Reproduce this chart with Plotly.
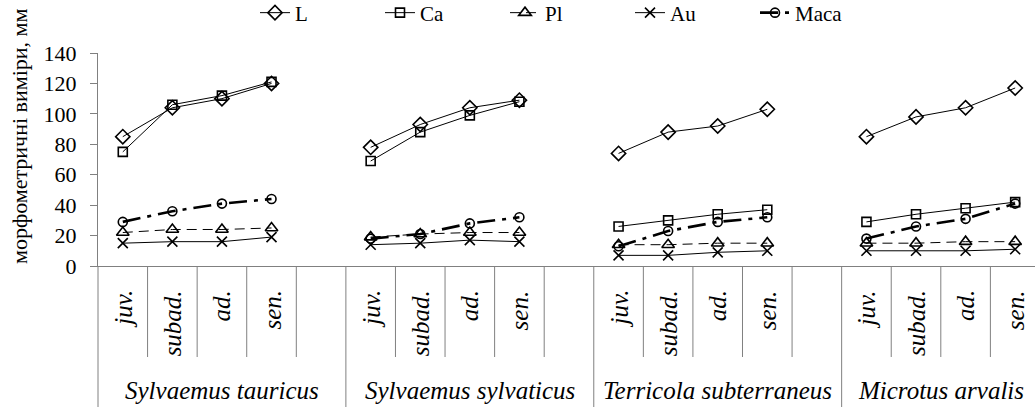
import plotly.graph_objects as go

groups = ["Sylvaemus tauricus", "Sylvaemus sylvaticus", "Terricola subterraneus", "Microtus arvalis"]
ages = ["juv.", "subad.", "ad.", "sen."]
yticks = [0, 20, 40, 60, 80, 100, 120, 140]

L = [85, 104, 110, 120, 78, 93, 104, 109, 74, 88, 92, 103, 85, 98, 104, 117]
Ca = [75, 106, 112, 121, 69, 88, 99, 108, 26, 30, 34, 37, 29, 34, 38, 42]
Pl = [22, 24, 24, 25, 19, 21, 22, 22, 14, 14, 15, 15, 15, 15, 16, 16]
Au = [15, 16, 16, 19, 14, 15, 17, 16, 7, 7, 9, 10, 10, 10, 10, 11]
Maca = [29, 36, 41, 44, 18, 21, 28, 32, 13, 23, 29, 32, 18, 26, 31, 41]

FONT = "Liberation Serif"
SLOTS_PER_GROUP = 5
XMAX = 18.9
GRAY = "#808080"


def build_xy(values):
    xs, ys = [], []
    for g in range(len(groups)):
        for a in range(len(ages)):
            xs.append(g * SLOTS_PER_GROUP + a + 0.5)
            ys.append(values[g * len(ages) + a])
        xs.append(None)
        ys.append(None)
    return xs, ys


series = [
    ("L", L, dict(symbol="diamond-open", size=11), dict(width=1, dash="solid")),
    ("Ca", Ca, dict(symbol="square-open", size=9), dict(width=1, dash="solid")),
    ("Pl", Pl, dict(symbol="triangle-up-open", size=11), dict(width=1, dash="10px,6px")),
    ("Au", Au, dict(symbol="x-thin-open", size=10), dict(width=1, dash="solid")),
    ("Maca", Maca, dict(symbol="circle-open", size=9), dict(width=2.6, dash="18px,7px,4px,7px")),
]

fig = go.Figure()
for name, vals, mk, ln in series:
    xs, ys = build_xy(vals)
    fig.add_trace(go.Scatter(
        x=xs, y=ys, name=name, mode="lines+markers",
        line=dict(color="black", **ln),
        marker=dict(color="black", line=dict(color="black", width=1.6), **mk),
        connectgaps=False,
    ))

shapes = []
annotations = []
PH = 213.0  # plot height in px

def py(pix):
    return (266 - pix) / PH

n_slots_total = [5, 5, 5, 4]
for g in range(len(groups)):
    start = g * SLOTS_PER_GROUP
    shapes.append(dict(type="line", xref="paper", yref="paper",
                       x0=start / XMAX, x1=start / XMAX, y0=0, y1=py(407),
                       line=dict(color=GRAY, width=1)))
    for s in range(1, n_slots_total[g]):
        xx = (start + s) / XMAX
        shapes.append(dict(type="line", xref="paper", yref="paper",
                           x0=xx, x1=xx, y0=0, y1=py(357),
                           line=dict(color=GRAY, width=1)))
    for a, lab in enumerate(ages):
        annotations.append(dict(x=(start + a + 0.5) / XMAX, y=py(288), xref="paper", yref="paper",
                                text="<i>" + lab + "</i>", showarrow=False, textangle=-90,
                                xanchor="center", yanchor="top",
                                font=dict(family=FONT, size=25, color="black")))
    center = (start + n_slots_total[g] / 2) / XMAX
    annotations.append(dict(x=center, y=py(390), xref="paper", yref="paper",
                            text="<i>" + groups[g] + "</i>", showarrow=False,
                            xanchor="center", yanchor="middle",
                            font=dict(family=FONT, size=25, color="black")))

annotations.append(dict(x=(19 - 98) / 937, y=py(137), xref="paper", yref="paper",
                        text="морфометричні виміри, мм", showarrow=False, textangle=-90,
                        xanchor="center", yanchor="middle",
                        font=dict(family=FONT, size=22, color="black")))

fig.update_layout(
    width=1035, height=407,
    margin=dict(l=98, r=0, t=53, b=141, autoexpand=False),
    paper_bgcolor="white", plot_bgcolor="white",
    font=dict(family=FONT, size=22, color="black"),
    showlegend=True,
    legend=dict(orientation="h", x=(255 - 98) / 937, xanchor="left", y=py(13), yanchor="middle",
                font=dict(family=FONT, size=21, color="black"),
                entrywidth=80, entrywidthmode="pixels", bgcolor="rgba(0,0,0,0)",
                borderwidth=0, itemclick=False),
    xaxis=dict(range=[0, XMAX], showticklabels=False, showgrid=False, zeroline=False,
               showline=True, linecolor=GRAY, linewidth=1, ticks="", automargin=False),
    yaxis=dict(range=[0, 140], tickvals=yticks, showgrid=False, zeroline=False,
               showline=True, linecolor=GRAY, linewidth=1, ticks="outside", ticklen=7,
               tickcolor=GRAY, tickfont=dict(family=FONT, size=22, color="black"),
               ticklabelstandoff=9, automargin=False),
    shapes=shapes,
    annotations=annotations,
)

fig.write_html("out.html", config={"displayModeBar": False},
               post_script="document.body.style.margin='0';document.body.style.padding='0';")
